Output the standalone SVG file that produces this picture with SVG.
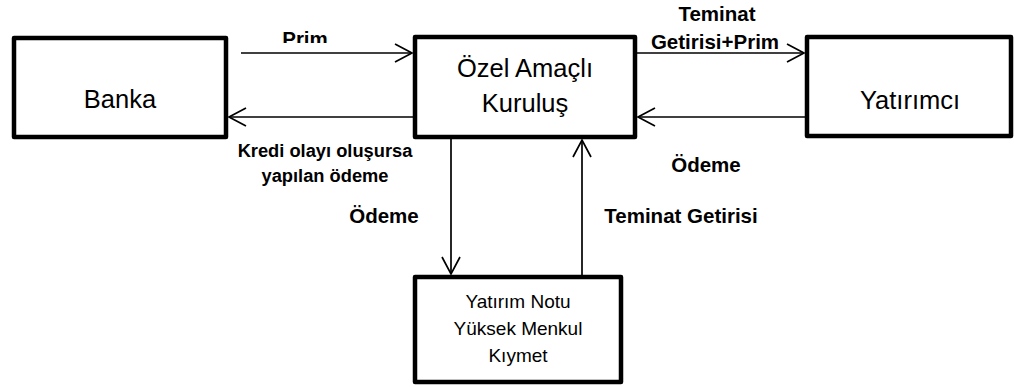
<svg xmlns="http://www.w3.org/2000/svg" width="1015" height="387" viewBox="0 0 1015 387">
<style>
.box{fill:#fff;stroke:#000;stroke-width:4.5;stroke-linejoin:round}
.node{font-family:"Liberation Sans",Arial,sans-serif;font-size:25.5px;fill:#000;text-anchor:middle}
.small{font-size:19px}
.lbl{font-family:"Liberation Sans",Arial,sans-serif;font-weight:bold;font-size:20.5px;fill:#000;text-anchor:middle}
.lbl2{font-size:18.3px}
.conn line{stroke:#000;stroke-width:1.7;fill:none;marker-end:url(#arr)}
</style>
<defs>
<marker id="arr" markerUnits="userSpaceOnUse" markerWidth="30" markerHeight="30" refX="0" refY="0" viewBox="-20 -15 30 30" orient="auto" overflow="visible">
<path d="M-17,-9 L0,0 L-17,9" fill="none" stroke="#000" stroke-width="1.7"/>
</marker>
<clipPath id="clipPrim"><rect x="250" y="0" width="120" height="43"/></clipPath>
<clipPath id="clipOd"><rect x="330" y="190" width="120" height="33"/></clipPath>
</defs>
<g id="banka">
<rect class="box" x="14" y="38" width="212" height="99"/>
<text class="node" x="120" y="108">Banka</text>
</g>
<g id="ozel">
<rect class="box" x="415" y="37" width="220" height="100"/>
<text class="node" x="525" y="77">Özel Amaçlı</text>
<text class="node" x="525" y="112">Kuruluş</text>
</g>
<g id="yatirimci">
<rect class="box" x="807" y="37" width="204" height="99"/>
<text class="node" x="910" y="109">Yatırımcı</text>
</g>
<g id="menkul">
<rect class="box" x="415" y="277" width="206" height="105"/>
<text class="node small" x="518" y="308">Yatırım Notu</text>
<text class="node small" x="518" y="335">Yüksek Menkul</text>
<text class="node small" x="518" y="362">Kıymet</text>
</g>
<g id="connectors" class="conn">
<line x1="241" y1="53" x2="412" y2="53"/>
<line x1="413" y1="117" x2="229" y2="117"/>
<line x1="637" y1="53" x2="804" y2="53"/>
<line x1="805" y1="117" x2="638" y2="117"/>
<line x1="451" y1="139" x2="451" y2="274"/>
<line x1="582" y1="275" x2="582" y2="140"/>
</g>
<g id="labels">
<text class="lbl" x="305" y="46" clip-path="url(#clipPrim)">Prim</text>
<text class="lbl" x="717" y="21">Teminat</text>
<text class="lbl" x="715" y="49">Getirisi+Prim</text>
<text class="lbl lbl2" x="325" y="157">Kredi olayı oluşursa</text>
<text class="lbl lbl2" x="325" y="182">yapılan ödeme</text>
<text class="lbl" x="384" y="223" clip-path="url(#clipOd)">Ödeme</text>
<text class="lbl" x="706" y="172">Ödeme</text>
<text class="lbl" x="681" y="223">Teminat Getirisi</text>
</g>
</svg>
